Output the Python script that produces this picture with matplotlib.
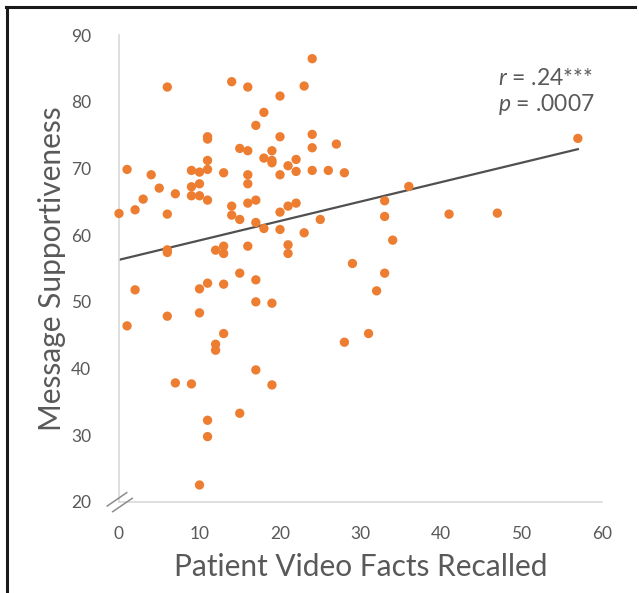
import numpy as np
import matplotlib
matplotlib.use("Agg")
import matplotlib.pyplot as plt
from matplotlib.lines import Line2D

# facts recalled (x) and message supportiveness (y)
facts = [0, 1, 2, 3, 4, 5, 6, 6, 6, 6, 7, 9, 9, 9, 10, 10, 10, 11, 11, 11, 11, 11,
         13, 14, 14, 14, 15, 15, 16, 16, 16, 16, 16, 17, 17, 17, 18, 18, 18,
         19, 19, 19, 20, 20, 20, 20, 20, 21, 21, 21, 21, 22, 22, 22, 23, 23,
         24, 24, 24, 24, 25, 26, 27, 28, 29, 12, 13, 13, 16,
         57, 36, 33, 33, 41, 47, 34, 33, 32, 31, 28,
         2, 15, 11, 10, 13, 17, 17, 19, 6, 10, 1, 13, 12, 12,
         17, 7, 9, 19, 15, 11, 11, 10]
support = [63.25, 69.85, 63.8, 65.4, 69.05, 67.05, 63.15, 82.2, 57.8, 57.4, 66.2,
           69.7, 67.25, 65.9, 69.45, 67.7, 65.9, 69.85, 71.2, 74.75, 74.4, 65.25,
           69.35, 83.0, 64.35, 63.0, 62.35, 73.0, 82.2, 72.65, 69.05, 67.7, 64.8,
           76.45, 65.25, 61.9, 78.4, 71.55, 61.0, 72.65, 71.2, 70.85,
           80.85, 74.75, 69.05, 63.45, 60.85, 70.4, 64.35, 58.55, 57.25,
           71.35, 69.55, 64.8, 82.35, 60.35, 86.45, 75.1, 73.1, 69.7,
           62.35, 69.7, 73.65, 69.35, 55.75, 57.75, 58.35, 57.25, 58.35,
           74.5, 67.3, 65.15, 62.8, 63.15, 63.3, 59.25, 54.3, 51.65, 45.25, 43.95,
           51.8, 54.3, 52.8, 51.95, 52.65, 53.3, 50.0, 49.8, 47.85, 48.35, 46.4,
           45.25, 43.65, 42.75, 39.8, 37.85, 37.7, 37.55, 33.3, 32.25, 29.8, 22.55]

# fitted line as drawn in the chart (intercept, slope)
trend = [56.3, 0.291]
stats = ["$r$ = .24***", "$p$ = .0007"]

x_ticks = [0, 10, 20, 30, 40, 50, 60]
y_ticks = [20, 30, 40, 50, 60, 70, 80, 90]

orange = "#ED7D31"
grey = "#595959"

plt.rcParams["font.family"] = ["Lato", "DejaVu Sans"]
plt.rcParams["mathtext.fontset"] = "custom"
plt.rcParams["mathtext.it"] = "Lato:italic"
plt.rcParams["mathtext.rm"] = "Lato"

fig = plt.figure(figsize=(6.39, 5.93), dpi=100)
ax = fig.add_axes([119 / 639, 91 / 593, 483 / 639, 467 / 593])

ax.scatter(facts, support, s=45, color=orange, edgecolors="none", zorder=3, clip_on=False)

xs = np.array([0, max(facts)])
ax.plot(xs, trend[0] + trend[1] * xs, color="#505050", lw=1.6, zorder=2)

ax.set_xlim(0, 60)
ax.set_ylim(20, 90)
ax.set_xticks(x_ticks)
ax.set_yticks(y_ticks)
ax.tick_params(length=0, labelsize=12.5, labelcolor=grey)
ax.tick_params(axis="x", pad=17)
ax.tick_params(axis="y", pad=20)

for side in ["top", "right"]:
    ax.spines[side].set_visible(False)
for side in ["left", "bottom"]:
    ax.spines[side].set_color("#D9D9D9")
    ax.spines[side].set_linewidth(1.2)

# axis break marks
for dx, dy in [(0, 0), (0.68, -0.85)]:
    ax.plot([-1.46 + dx, 0.96 + dx], [19.4 + dy, 21.4 + dy], color="#8C8C8C",
            lw=1.1, clip_on=False, zorder=4)

ax.text(47.1, 82.5, stats[0], fontsize=16.5, color=grey, va="baseline")
ax.text(47.1, 78.6, stats[1], fontsize=16.5, color=grey, va="baseline")

ax.set_xlabel("Patient Video Facts Recalled", fontsize=21.5, color=grey, labelpad=8)
ax.set_ylabel("Message Supportiveness", fontsize=21.5, color=grey, labelpad=4)

# outer frame (top and left edges only)
fig.add_artist(Line2D([6 / 639, 635 / 639], [586 / 593, 586 / 593], color="#1a1a1a", lw=2.2))
fig.add_artist(Line2D([7 / 639, 7 / 639], [0, 586 / 593], color="#1a1a1a", lw=2.2))

fig.savefig("out.png", dpi=100)
